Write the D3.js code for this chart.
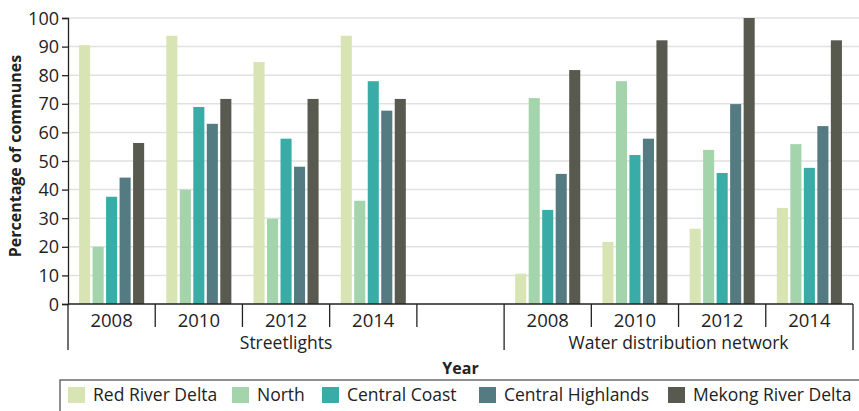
<!DOCTYPE html>
<html><head><meta charset="utf-8">
<script src="https://cdn.jsdelivr.net/npm/d3@7"></script>
<style>body{margin:0;background:#fff}svg{display:block}text{font-family:"Open Sans",sans-serif;fill:#222}</style>
</head><body><svg id="c" width="859" height="411"></svg>
<script>
const groups = ["Streetlights", "Water distribution network"];
const years = ["2008", "2010", "2012", "2014"];
const series = ["Red River Delta", "North", "Central Coast", "Central Highlands", "Mekong River Delta"];
const colors = ["#d8e4b3", "#a3d4ab", "#3aaca8", "#537b81", "#585a50"];
const yTicks = [0, 10, 20, 30, 40, 50, 60, 70, 80, 90, 100];
// values[group][yearIndex] = [RRD, North, CC, CH, MRD]
const streetlights = [
  [90.5, 20.0, 37.5, 44.2, 56.3],
  [93.8, 40.0, 68.9, 63.0, 71.7],
  [84.6, 29.8, 57.8, 48.0, 71.7],
  [93.8, 36.1, 77.9, 67.6, 71.7]
];
const water = [
  [10.6, 72.0, 32.9, 45.5, 81.8],
  [21.7, 77.9, 52.1, 57.8, 92.2],
  [26.3, 53.9, 45.8, 69.9, 100.0],
  [33.6, 55.9, 47.6, 62.2, 92.2]
];
const values = [streetlights, water];

const svg = d3.select("#c");
const L = 68, R = 853, T = 18, B = 304;
// 9 slots: 4 streetlights, 1 empty, 4 water
const slots = [];
years.forEach((y, i) => slots.push({g: 0, y, i}));
slots.push({g: 0, y: "", i: -1});
years.forEach((y, i) => slots.push({g: 1, y, i}));
const x = d3.scaleBand().domain(d3.range(slots.length)).range([L, R]).padding(0);
const xi = d3.scaleBand().domain(series).range([0, x.bandwidth()]).paddingInner(0.18).paddingOuter(0.82);
const yS = d3.scaleLinear().domain([0, 100]).range([B, T]);

// gridlines
svg.append("g").selectAll("line").data(yTicks.slice(1)).join("line")
  .attr("x1", L).attr("x2", 859).attr("y1", d => yS(d)).attr("y2", d => yS(d))
  .attr("stroke", "#e1e1e1").attr("stroke-width", 1.5);

// bars
slots.forEach((s, k) => {
  if (s.i < 0) return;
  const vals = values[s.g][s.i];
  svg.append("g").attr("transform", `translate(${x(k)},0)`)
    .selectAll("rect").data(series).join("rect")
    .attr("x", d => xi(d)).attr("width", xi.bandwidth())
    .attr("y", (d, j) => yS(vals[j])).attr("height", (d, j) => B - yS(vals[j]))
    .attr("fill", (d, j) => colors[j]);
});

// y axis
const ya = svg.append("g").attr("transform", `translate(${L},0)`)
  .call(d3.axisLeft(yS).tickValues(yTicks).tickSize(6).tickPadding(3));
ya.select(".domain").attr("stroke", "#222").attr("stroke-width", 1.3);
ya.selectAll(".tick line").attr("stroke", "#222").attr("stroke-width", 1.3);
ya.selectAll("text").style("font-size", "18px").style("font-family", "Open Sans").attr("fill", "#222").attr("dy", "0.34em");

// x axis line
svg.append("line").attr("x1", L).attr("x2", R).attr("y1", B).attr("y2", B).attr("stroke", "#222").attr("stroke-width", 1.5);
// year ticks
const boundaries = d3.range(slots.length + 1).map(k => k < slots.length ? x(k) : R);
boundaries.forEach((bx, k) => {
  const long = (k === 0 || k === 5 || k === 9);
  svg.append("line").attr("x1", bx).attr("x2", bx).attr("y1", B).attr("y2", long ? 350 : 327)
    .attr("stroke", "#222").attr("stroke-width", 1.3);
});
svg.append("g").selectAll("text").data(slots.filter(s => s.i >= 0)).join("text")
  .attr("x", (s) => x(slots.indexOf(s)) + x.bandwidth() / 2).attr("y", 327)
  .attr("text-anchor", "middle").style("font-size", "18.5px").text(s => s.y);
// group labels
svg.append("text").attr("x", (L + x(5)) / 2).attr("y", 349).attr("text-anchor", "middle")
  .style("font-size", "17.5px").text(groups[0]);
svg.append("text").attr("x", (x(5) + R) / 2).attr("y", 349).attr("text-anchor", "middle")
  .style("font-size", "17.5px").text(groups[1]);

// axis titles
svg.append("text").attr("x", (L + R) / 2).attr("y", 374).attr("text-anchor", "middle")
  .style("font-size", "16px").style("font-weight", "bold").text("Year");
svg.append("text").attr("transform", `translate(21,${(T + B) / 2 - 5}) rotate(-90)`).attr("text-anchor", "middle")
  .style("font-size", "16px").style("font-weight", "bold").text("Percentage of communes");

// legend
svg.append("rect").attr("x", 60).attr("y", 380).attr("width", 820).attr("height", 60)
  .attr("fill", "none").attr("stroke", "#555").attr("stroke-width", 1.3);
const legX = [68, 232, 322, 479, 668];
const lg = svg.append("g").selectAll("g").data(series).join("g")
  .attr("transform", (d, i) => `translate(${legX[i]},387)`);
lg.append("rect").attr("width", 17).attr("height", 16).attr("fill", (d, i) => colors[i]);
lg.append("text").attr("x", 25).attr("y", 14).style("font-size", "17.5px").text(d => d);
</script></body></html>
